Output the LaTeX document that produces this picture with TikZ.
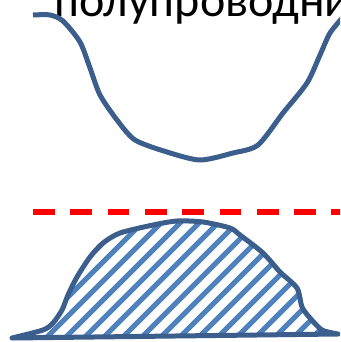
\documentclass[tikz,border=0pt]{standalone}
\usepackage{fontspec}
\setmainfont{Carlito}
\usepackage{xcolor}
\usepackage{tikz}

\definecolor{outline}{RGB}{59,94,140}
\definecolor{hatch}{RGB}{79,129,189}

\begin{document}
\begin{tikzpicture}[
        x=1pt, y=-1pt,
        curve/.style={
            draw=outline,
            line width=5pt,
            line join=round
        },
        level/.style={
            draw=red,
            line width=6pt,
            dash pattern=on 21.7pt off 15.6pt
        },
        stripe/.style={
            draw=hatch,
            line width=5pt
        },
        label/.style={
            anchor=base west,
            inner sep=0pt,
            font=\fontsize{48}{48}\selectfont
        }
    ]
        \useasboundingbox (0,0) rectangle (340,342);
        \begin{scope}
            \clip (0,0) rectangle (340,342);

            % title, cut by the frame
            \node[label] (title) at (54,17) {полупроводни};

            % band edge
            \draw[curve] plot[smooth, tension=0.45] coordinates {
                (33,15) (50,15) (63,21) (80,42) (90,68) (100,95) (117,120)
                (135,140) (167,152) (200,160) (233,153) (258,145) (283,113)
                (307,83) (320,55) (330,33) (344,16)};

            % level
            \draw[level] (33,212) -- (342,212);

            % filled states
            \begin{scope}
                \clip plot[smooth, tension=0.45] coordinates {
                    (12,338) (43,330) (53,323) (62,310) (68,295) (77,277)
                    (90,257) (103,243) (120,233) (153,225) (177,221) (203,222)
                    (230,228) (240,235) (263,253) (280,272) (297,288) (302,307)
                    (310,318) (322,330) (338,334)} -- cycle;
                \foreach \a in {-156,-137,...,340}
                    \draw[stripe] (\a,350) -- ++(170,-170);
            \end{scope}
            \draw[curve] plot[smooth, tension=0.45] coordinates {
                (12,338) (43,330) (53,323) (62,310) (68,295) (77,277)
                (90,257) (103,243) (120,233) (153,225) (177,221) (203,222)
                (230,228) (240,235) (263,253) (280,272) (297,288) (302,307)
                (310,318) (322,330) (338,334)} -- cycle;
        \end{scope}
    \end{tikzpicture}
\end{document}
